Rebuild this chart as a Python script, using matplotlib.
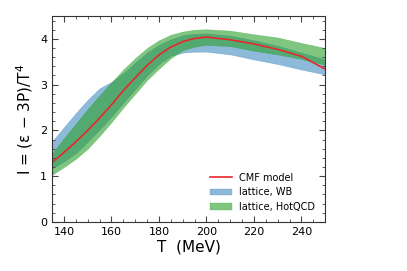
import matplotlib.pyplot as plt
import numpy as np
from matplotlib.ticker import MultipleLocator

# temperatura (MeV) y trace anomaly I = (e - 3P)/T^4
T = np.array([135, 140, 145, 150, 155, 160, 165, 170, 175, 180, 185, 190, 195, 200, 210, 220, 230, 240, 250])
cmf = np.array([1.30, 1.52, 1.75, 2.00, 2.27, 2.56, 2.87, 3.15, 3.42, 3.65, 3.82, 3.94, 4.01, 4.04, 3.98, 3.89, 3.77, 3.62, 3.34])

# lattice Wuppertal-Budapest
wb_lo = np.array([1.17, 1.32, 1.50, 1.75, 2.02, 2.30, 2.60, 2.90, 3.20, 3.45, 3.63, 3.70, 3.72, 3.72, 3.66, 3.55, 3.45, 3.33, 3.22])
wb_hi = np.array([1.76, 2.07, 2.38, 2.67, 2.92, 3.06, 3.25, 3.48, 3.70, 3.87, 3.99, 4.08, 4.11, 4.12, 4.07, 3.97, 3.85, 3.70, 3.55])

# lattice HotQCD
hq_lo = np.array([1.03, 1.20, 1.38, 1.60, 1.88, 2.18, 2.50, 2.80, 3.10, 3.35, 3.58, 3.75, 3.83, 3.87, 3.84, 3.74, 3.66, 3.56, 3.43])
hq_hi = np.array([1.50, 1.83, 2.15, 2.47, 2.77, 3.05, 3.33, 3.58, 3.80, 3.97, 4.09, 4.16, 4.20, 4.21, 4.18, 4.10, 4.03, 3.91, 3.80])

fig = plt.figure(figsize=(4.07, 2.71), dpi=100)
ax = fig.add_axes([0.128, 0.181, 0.671, 0.760])

ax.fill_between(T, wb_lo, wb_hi, color='tab:blue', alpha=0.5, lw=0.3, label='lattice, WB')
ax.fill_between(T, hq_lo, hq_hi, color='tab:green', alpha=0.6, lw=0.3, label='lattice, HotQCD')
ax.plot(T, cmf, color='#e8262b', lw=1.2, label='CMF model')

ax.set_xlim(135, 250)
ax.set_ylim(0, 4.5)
ax.xaxis.set_major_locator(MultipleLocator(20))
ax.xaxis.set_minor_locator(MultipleLocator(5))
ax.yaxis.set_major_locator(MultipleLocator(1))
ax.yaxis.set_minor_locator(MultipleLocator(0.2))
ax.tick_params(which='both', direction='in', top=True, right=True, labelsize=8, color='#444444')
ax.tick_params(which='major', length=4)
ax.tick_params(which='minor', length=2)
for s in ax.spines.values():
    s.set_color('#333333')

ax.set_xlabel('T  (MeV)', fontsize=11, labelpad=2)
ax.set_ylabel('I = (ε − 3P)/T$^4$', fontsize=11, labelpad=4)

h, l = ax.get_legend_handles_labels()
ax.legend([h[2], h[0], h[1]], [l[2], l[0], l[1]], loc='lower right', frameon=False,
          fontsize=7, handlelength=2.2, borderaxespad=0.6)

plt.savefig('out.png', dpi=100)
